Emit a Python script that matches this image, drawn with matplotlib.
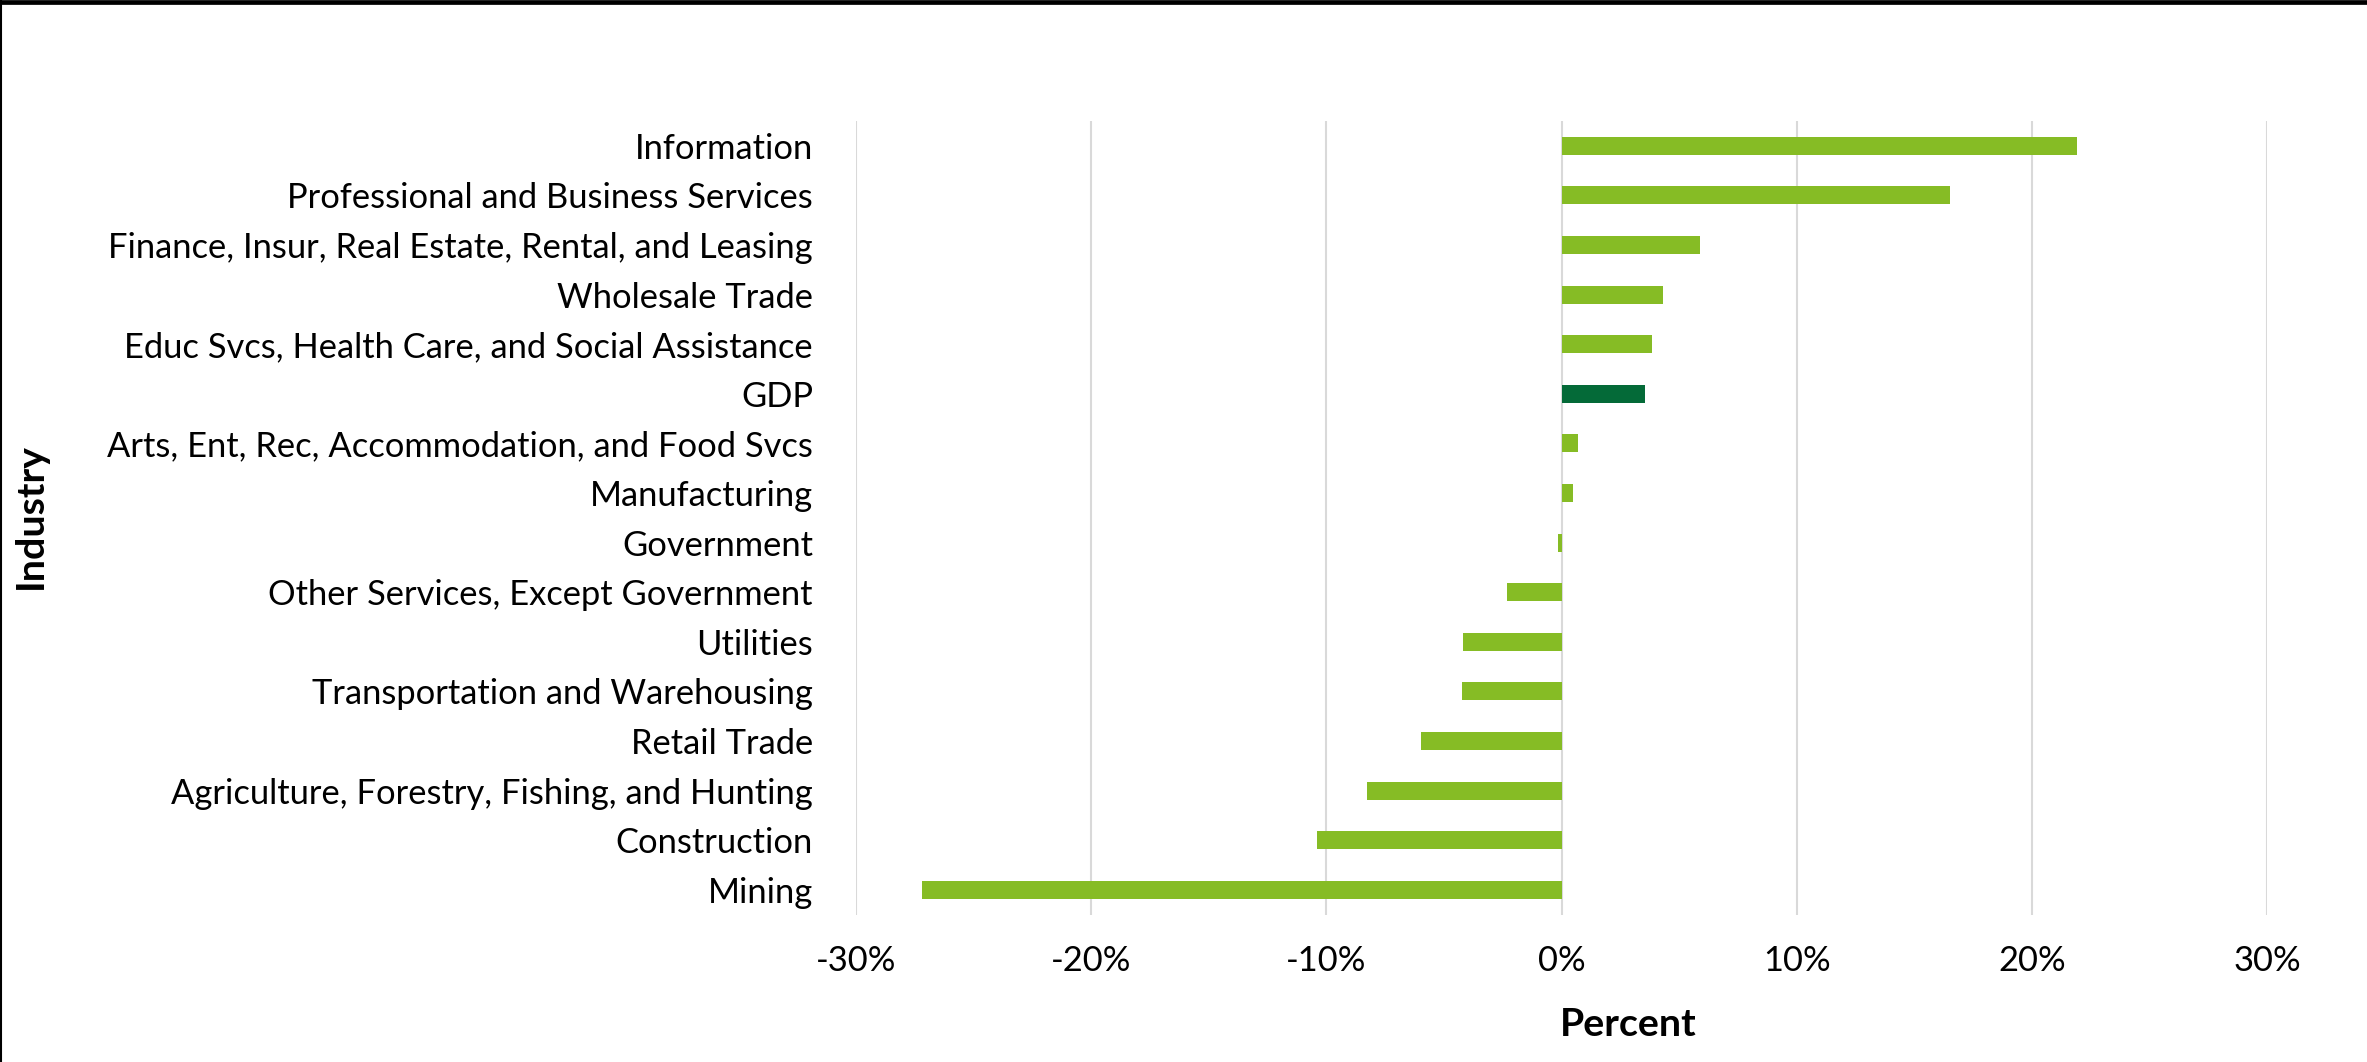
import matplotlib
matplotlib.use("Agg")
import matplotlib.pyplot as plt
from matplotlib.lines import Line2D
from matplotlib.ticker import FuncFormatter

industries = [
    "Information",
    "Professional and Business Services",
    "Finance, Insur, Real Estate, Rental, and Leasing",
    "Wholesale Trade",
    "Educ Svcs, Health Care, and Social Assistance",
    "GDP",
    "Arts, Ent, Rec, Accommodation, and Food Svcs",
    "Manufacturing",
    "Government",
    "Other Services, Except Government",
    "Utilities",
    "Transportation and Warehousing",
    "Retail Trade",
    "Agriculture, Forestry, Fishing, and Hunting",
    "Construction",
    "Mining",
]
values = [21.9, 16.5, 5.9, 4.3, 3.85, 3.57, 0.71, 0.47, -0.13, -2.3,
          -4.2, -4.25, -5.96, -8.27, -10.4, -27.2]
highlight = "GDP"
xticks = [-30, -20, -10, 0, 10, 20, 30]

LIGHT = "#86BC25"
DARK = "#046A38"
FONT = "Lato"

W, H = 2367, 1062
fig = plt.figure(figsize=(W / 100, H / 100), dpi=100)
ax = fig.add_axes([856 / W, 1 - 914.6 / H, (2267 - 856) / W, (914.6 - 121) / H])

colors = [DARK if c == highlight else LIGHT for c in industries]
ypos = list(range(len(industries)))
ax.barh(ypos, values, height=0.36, color=colors, zorder=3)

ax.set_ylim(len(industries) - 0.5, -0.5)
ax.set_xlim(-30, 30)
ax.set_xticks(xticks)
ax.xaxis.set_major_formatter(FuncFormatter(lambda v, p: f"{int(round(v))}%"))
ax.set_yticks(ypos)
ax.set_yticklabels(industries)

for s in ax.spines.values():
    s.set_visible(False)
ax.grid(axis="x", color="#D9D9D9", linewidth=1.5, zorder=0)
ax.tick_params(axis="both", length=0)
ax.tick_params(axis="y", pad=31)
ax.tick_params(axis="x", pad=22)
for lab in ax.get_xticklabels() + ax.get_yticklabels():
    lab.set_fontfamily(FONT)
    lab.set_fontsize(24.8)
    lab.set_color("black")

fig.text(1628 / W, 1 - 1025 / H, "Percent", ha="center", va="center",
         fontsize=28.4, fontweight="bold", family=FONT)
fig.text(30 / W, 1 - 516 / H, "Industry", ha="center", va="center",
         rotation=90, fontsize=28.4, fontweight="bold", family=FONT)

# frame lines at top and left edges
fig.add_artist(Line2D([0, 1], [1 - 2.3 / H, 1 - 2.3 / H], transform=fig.transFigure,
                      color="black", linewidth=3.4))
fig.add_artist(Line2D([1 / W, 1 / W], [0, 1], transform=fig.transFigure,
                      color="black", linewidth=1.5))

fig.savefig("out.png", dpi=100, facecolor="white")
